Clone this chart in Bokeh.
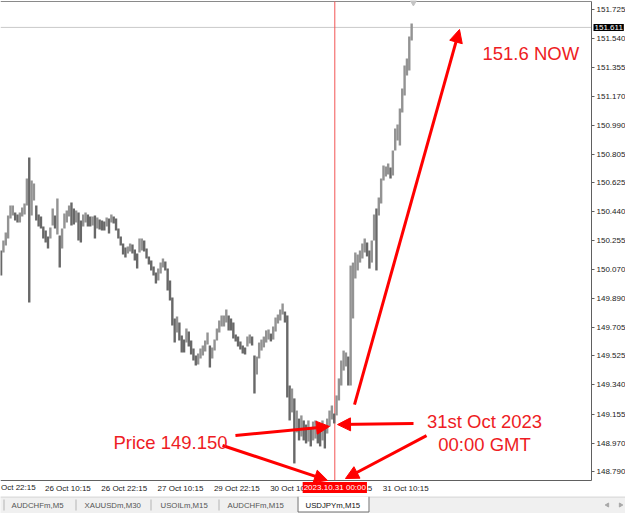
import math
from bokeh.plotting import figure
from bokeh.models import (Range1d, FixedTicker, NumeralTickFormatter, Label,
                          Arrow, NormalHead, ColumnDataSource)
from bokeh.layouts import column
from bokeh.embed import file_html
from bokeh.resources import INLINE
from bokeh.core.properties import value

# ---------------- data (USDJPYm, M15; each entry = two M15 bars) ----------------
highs = [
    150.194, 150.257, 150.308, 150.416, 150.480, 150.480, 150.435, 150.422, 150.435, 150.467,
    150.492, 150.651, 150.785, 150.638, 150.619, 150.480, 150.422, 150.410, 150.346, 150.321,
    150.283, 150.340, 150.461, 150.416, 150.524, 150.289, 150.334, 150.429, 150.448, 150.480,
    150.499, 150.461, 150.448, 150.435, 150.384, 150.422, 150.435, 150.422, 150.410, 150.410,
    150.416, 150.403, 150.391, 150.384, 150.378, 150.403, 150.397, 150.422, 150.410, 150.397,
    150.334, 150.283, 150.238, 150.213, 150.219, 150.238, 150.232, 150.200, 150.175, 150.270,
    150.270, 150.257, 150.206, 150.156, 150.130, 150.092, 150.054, 150.079, 150.117, 150.143,
    150.124, 150.079, 150.003, 149.895, 149.762, 149.774, 149.736, 149.654, 149.628, 149.698,
    149.679, 149.622, 149.571, 149.527, 149.539, 149.571, 149.590, 149.622, 149.673, 149.590,
    149.578, 149.628, 149.698, 149.749, 149.781, 149.781, 149.819, 149.781, 149.762, 149.736,
    149.660, 149.647, 149.616, 149.590, 149.578, 149.647, 149.660, 149.647, 149.527, 149.520,
    149.609, 149.628, 149.647, 149.686, 149.692, 149.666, 149.711, 149.768, 149.787, 149.819,
    149.857, 149.806, 149.781, 149.336, 149.317, 149.254, 149.177, 149.126, 149.146, 149.114,
    149.088, 149.114, 149.069, 149.107, 149.114, 149.095, 149.088, 149.114, 149.082, 149.126,
    149.177, 149.209, 149.158, 149.273, 149.381, 149.495, 149.558, 149.546, 149.520, 150.098,
    150.117, 150.181, 150.168, 150.194, 150.238, 150.270, 150.245, 150.194, 150.257, 150.422,
    150.461, 150.530, 150.651, 150.734, 150.727, 150.746, 150.721, 150.829, 150.969, 150.994,
    151.096, 151.223, 151.369, 151.414, 151.553, 151.636,
]
lows = [
    150.035, 150.181, 150.226, 150.270, 150.397, 150.416, 150.384, 150.372, 150.372, 150.410,
    150.422, 150.480, 149.863, 150.416, 150.511, 150.384, 150.346, 150.334, 150.270, 150.245,
    150.206, 150.270, 150.353, 150.334, 150.295, 150.086, 150.206, 150.334, 150.372, 150.410,
    150.353, 150.359, 150.372, 150.257, 150.245, 150.346, 150.372, 150.346, 150.346, 150.353,
    150.270, 150.334, 150.327, 150.321, 150.321, 150.346, 150.302, 150.372, 150.365, 150.321,
    150.270, 150.226, 150.168, 150.149, 150.175, 150.187, 150.175, 150.130, 150.079, 150.181,
    150.194, 150.187, 150.143, 150.105, 150.067, 150.035, 149.984, 150.003, 150.048, 150.086,
    150.067, 149.940, 149.876, 149.717, 149.609, 149.673, 149.622, 149.546, 149.546, 149.609,
    149.584, 149.533, 149.495, 149.463, 149.470, 149.508, 149.527, 149.552, 149.597, 149.450,
    149.508, 149.558, 149.622, 149.673, 149.711, 149.711, 149.736, 149.686, 149.686, 149.635,
    149.616, 149.584, 149.565, 149.539, 149.533, 149.584, 149.603, 149.590, 149.285, 149.406,
    149.508, 149.558, 149.578, 149.609, 149.628, 149.616, 149.628, 149.679, 149.730, 149.749,
    149.787, 149.736, 149.260, 149.114, 149.165, 148.841, 149.038, 148.987, 149.012, 148.987,
    148.968, 148.980, 148.949, 148.987, 148.999, 148.968, 148.949, 148.987, 148.936, 149.031,
    149.076, 149.120, 149.095, 149.146, 149.241, 149.336, 149.431, 149.457, 149.336, 149.336,
    149.762, 150.016, 150.067, 150.117, 150.143, 150.181, 150.156, 150.079, 150.117, 150.257,
    150.067, 150.416, 150.492, 150.638, 150.664, 150.677, 150.651, 150.670, 150.829, 150.893,
    150.861, 151.070, 151.178, 151.306, 151.337, 151.528,
]

y_ticks = [151.725, 151.540, 151.355, 151.170, 150.990, 150.805, 150.625, 150.440, 150.255,
           150.070, 149.890, 149.705, 149.525, 149.340, 149.155, 148.970, 148.790]
x_tick_bars = [38, 86, 134, 182, 230, 278, 326]
x_tick_labels = ["26 Oct 10:15", "26 Oct 22:15", "27 Oct 10:15", "29 Oct 22:15",
                 "30 Oct 10:15", "30 Oct 22:15", "31 Oct 10:15"]
first_tick_label = "Oct 22:15"      # left-most label, cut by the window edge in the original
event_bar = 285                     # 2023.10.31 00:00
event_label = "2023.10.31 00:00"
last_bar = 351
last_price = 151.611
tab_names = ["AUDCHFm,M5", "XAUUSDm,M30", "USOILm,M15", "AUDCHFm,M15", "USDJPYm,M15"]

# ---------------- geometry ----------------
BAR_PX = 1.173          # pixels per M15 bar
PRICE_PX = 0.006353     # price per pixel
P0 = 151.782            # price at the top pixel row


def price_at(px):
    return P0 - px * PRICE_PX


def bar_at(px):
    return px / BAR_PX


W, H = 625, 496
CHART_RIGHT = bar_at(591)
CHART_TOP = price_at(1)
CHART_BOT = price_at(480)
LABEL_HALF = bar_at(22.8)   # time labels start at their bar (MetaTrader style)
RED = "#ff0000"
TXT_RED = "#ee1c24"
FONT = "Liberation Sans"
AX = "#606060"

xs = [2 * k + 0.5 for k in range(len(highs))]
mids = [(h + l) / 2 for h, l in zip(highs, lows)]
cols = ["#686868"] + ["#939393" if mids[i] >= mids[i - 1] else "#686868" for i in range(1, len(mids))]
src = ColumnDataSource(dict(x=xs, high=highs, low=lows, color=cols))

p = figure(width=W, height=H,
           x_range=Range1d(0, bar_at(W)), y_range=Range1d(price_at(H), P0),
           y_axis_location="right", output_backend="svg", toolbar_location=None,
           min_border=0, min_border_left=0, min_border_right=0, min_border_top=0,
           min_border_bottom=0, outline_line_color=None,
           background_fill_color="white", border_fill_color="white")
p.grid.visible = False

# frame lines, price line and event line
p.segment(x0=[0], y0=[CHART_TOP], x1=[CHART_RIGHT], y1=[CHART_TOP], line_color="#8a8a8a", line_width=1)
p.segment(x0=[0], y0=[last_price], x1=[CHART_RIGHT], y1=[last_price], line_color="#cacaca", line_width=1)
p.segment(x0=[event_bar], y0=[CHART_BOT], x1=[event_bar], y1=[CHART_TOP], line_color="#f25555", line_width=1)
p.scatter(x=[last_bar + 1], y=[price_at(2)], marker="inverted_triangle", size=6, color="#c4c4c4")

# candles
p.segment(x0="x", y0="low", x1="x", y1="high", line_color="color", line_width=2.4, source=src)

# axes drawn at fixed places inside the canvas
yax = p.yaxis[0]
yax.fixed_location = CHART_RIGHT
yax.bounds = (CHART_BOT, CHART_TOP)
yax.ticker = FixedTicker(ticks=y_ticks)
yax.formatter = NumeralTickFormatter(format="0.000")
yax.major_tick_out = 3
yax.major_tick_in = 0
yax.minor_tick_line_color = None
yax.major_label_standoff = 2
yax.axis_line_color = AX
yax.major_tick_line_color = AX
yax.major_label_text_font = FONT
yax.major_label_text_font_size = "8px"
yax.major_label_text_color = "#222222"

xax = p.xaxis[0]
xax.fixed_location = CHART_BOT
xax.bounds = (0, CHART_RIGHT)
shifted = [b + LABEL_HALF for b in x_tick_bars]
xax.ticker = FixedTicker(ticks=shifted)
xax.major_label_overrides = {s: lbl for s, lbl in zip(shifted, x_tick_labels)}
xax.major_tick_out = 0
xax.major_tick_in = 0
xax.minor_tick_line_color = None
xax.major_label_standoff = 3
xax.axis_line_color = AX
xax.major_tick_line_color = None
xax.major_label_text_font = FONT
xax.major_label_text_font_size = "8px"
xax.major_label_text_color = "#222222"

lab_y = price_at(487)
p.add_layout(Label(x=bar_at(0.5), y=lab_y, text=first_tick_label, text_align="left",
                   text_baseline="middle", text_font=FONT, text_font_size="8px",
                   text_color="#222222"))
p.add_layout(Label(x=event_bar, y=lab_y, text=event_label, text_align="center",
                   text_baseline="middle", text_font=FONT, text_font_size="8px",
                   text_color="white", background_fill_color=RED, padding=1, level="overlay"))
p.add_layout(Label(x=bar_at(593), y=last_price, text="151.611", text_align="left",
                   text_baseline="middle", text_font=FONT, text_font_size="8px",
                   text_color="white", background_fill_color="black", padding=1, level="overlay"))


# annotation arrows (data coordinates: bar index, price)
def arrow(x0, y0, x1, y1):
    p.add_layout(Arrow(end=NormalHead(size=13, fill_color=RED, line_color=RED, line_width=1),
                       x_start=x0, y_start=y0, x_end=x1, y_end=y1,
                       line_color=RED, line_width=3, level="overlay"))


arrow(301.8, 149.215, 391.3, 151.598)   # to "151.6 NOW"
arrow(200.3, 149.018, 280.5, 149.076)   # from "Price 149.150"
arrow(352.1, 149.095, 287.3, 149.088)   # from "31st Oct 2023"
arrow(189.3, 148.955, 278.8, 148.733)   # down to time axis (left)
arrow(363.2, 149.018, 294.1, 148.745)   # down to time axis (right)


def note(x, y, text, align):
    p.add_layout(Label(x=x, y=y, text=text, text_align=align, text_baseline="alphabetic",
                       text_font=FONT, text_font_size="18.5px", text_color=TXT_RED,
                       level="overlay"))


note(410.9, 151.445, "151.6 NOW", "left")
note(96.3, 148.974, "Price 149.150", "left")
note(412.6, 149.107, "31st Oct 2023", "center")
note(412.6, 148.961, "00:00 GMT", "center")

# ---------------- tab bar ----------------
t = figure(width=625, height=17, x_range=Range1d(0, 625), y_range=Range1d(17, 0),
           x_axis_type=None, y_axis_type=None, output_backend="svg", toolbar_location=None,
           min_border=0, outline_line_color=None,
           background_fill_color="#f0f0f0", border_fill_color="#f0f0f0")
t.grid.visible = False
t.segment(x0=[0], y0=[0.5], x1=[625], y1=[0.5], line_color="#d0d0d0", line_width=1)
t.quad(left=[297], right=[369], top=[0], bottom=[15.5], fill_color="white", line_color=None)
t.segment(x0=[297.5, 368.5, 297.5], y0=[0, 0, 15.5], x1=[297.5, 368.5, 368.5], y1=[15.5, 15.5, 15.5],
          line_color="#6e6e6e", line_width=1)
t.segment(x0=[3.5, 75.5, 150.5, 218.5], y0=[3, 3, 3, 3], x1=[3.5, 75.5, 150.5, 218.5],
          y1=[14, 14, 14, 14], line_color="#b4b4b4", line_width=1)
tab_x = [11, 84, 160, 227, 305]
tab_col = ["#555555", "#555555", "#555555", "#555555", "#111111"]
t.text(x=tab_x, y=[8.5] * 5, text=tab_names, text_color=tab_col, text_align="left",
       text_baseline="middle", text_font=value(FONT), text_font_size="7.8px")
t.scatter(x=[607, 620], y=[8.5, 8.5], marker="triangle", size=4,
          angle=[math.pi / 2, -math.pi / 2], color="#a8a8a8")

layout = column(p, t, spacing=0)
open("out.html", "w").write(file_html(layout, INLINE))
